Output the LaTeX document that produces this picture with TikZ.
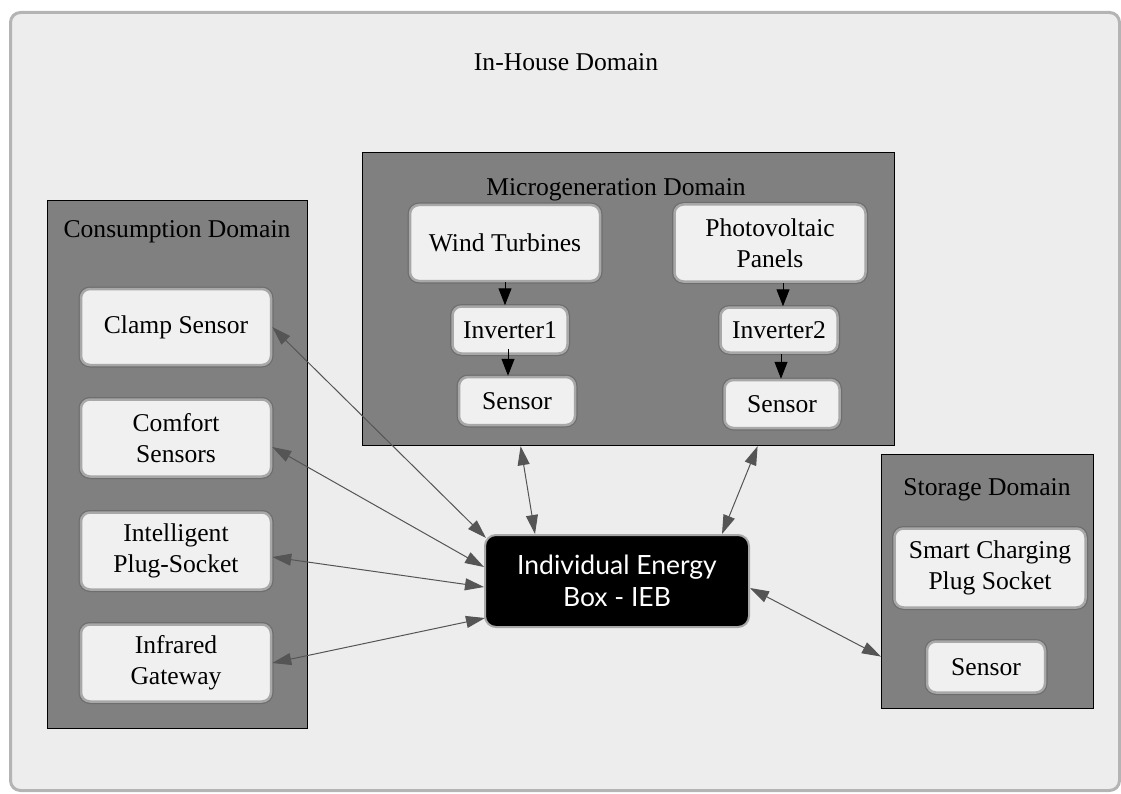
\documentclass[tikz,border=0pt]{standalone}
\usepackage{fontspec}
\setmainfont{Liberation Serif}
\newfontfamily\iebfont{Lato}
\usetikzlibrary{arrows.meta}

\definecolor{framefill}{HTML}{EDEDED}
\definecolor{frameline}{HTML}{B4B4B4}
\definecolor{domainfill}{HTML}{808080}
\definecolor{itemfill}{HTML}{F0F0F0}
\definecolor{itemedge}{HTML}{6E6E6E}
\definecolor{itemrim}{HTML}{A8A8A8}
\definecolor{linkgray}{HTML}{555555}

\begin{document}
\begin{tikzpicture}[x=1pt,y=-1pt,
  every node/.style={font=\fontsize{25.6}{31}\selectfont, align=center, inner sep=0pt},
  domainbox/.style={draw=black, line width=1.2pt, fill=domainfill, anchor=north west},
  itembox/.style={fill=itemfill, rounded corners=9pt, draw=itemrim, line width=2.5pt,
     preaction={draw=itemedge, line width=5pt}},
  iebbox/.style={fill=black, draw=itemrim, line width=2pt, rounded corners=11pt,
     text=white, font=\iebfont\fontsize{26.5}{32}\selectfont},
  link/.style={draw=linkgray, line width=1pt,
     {Triangle[length=19pt,width=12pt]}-{Triangle[length=19pt,width=12pt]}},
  flow/.style={draw=black, line width=1pt, -{Triangle[length=17pt,width=13pt]}}
]
\useasboundingbox (0,0) rectangle (1121,794);

% outer house frame
\node[draw=frameline, fill=framefill, line width=3pt, rounded corners=10pt,
      minimum width=1109pt, minimum height=778pt, anchor=north west] (house) at (9,11) {};
\node (housetitle) at (566,62) {In-House Domain};

% domains
\node[domainbox, minimum width=260pt, minimum height=528pt] (cons) at (47,200) {};
\node (constitle) at (177,232) {Consumption Domain};
\node[domainbox, minimum width=532pt, minimum height=293pt] (micro) at (362,152) {};
\node (microtitle) at (616,190) {Microgeneration Domain};
\node[domainbox, minimum width=212pt, minimum height=254pt] (stor) at (881,454) {};
\node (stortitle) at (987,490) {Storage Domain};

% consumption devices
\node[itembox, minimum width=190pt, minimum height=76pt] (clamp) at (176,327) {Clamp Sensor};
\node[itembox, minimum width=190pt, minimum height=77pt] (comfort) at (176,438) {Comfort\\Sensors};
\node[itembox, minimum width=190pt, minimum height=77pt] (plug) at (176,551) {Intelligent\\Plug-Socket};
\node[itembox, minimum width=190pt, minimum height=77pt] (infra) at (176,663) {Infrared\\Gateway};

% microgeneration devices
\node[itembox, minimum width=190pt, minimum height=76pt] (wind) at (505,243) {Wind Turbines};
\node[itembox, minimum width=191pt, minimum height=77pt] (pv) at (770,243) {Photovoltaic\\Panels};
\node[itembox, minimum width=115pt, minimum height=47pt] (inva) at (510,330) {Inverter1};
\node[itembox, minimum width=116pt, minimum height=48pt] (sensa) at (517,401) {Sensor};
\node[itembox, minimum width=117pt, minimum height=45pt] (invb) at (779,330) {Inverter2};
\node[itembox, minimum width=115pt, minimum height=48pt] (sensb) at (782,404) {Sensor};

% storage devices
\node[itembox, minimum width=191pt, minimum height=79pt] (charge) at (990,568) {Smart Charging\\Plug Socket};
\node[itembox, minimum width=118pt, minimum height=51pt] (sensc) at (986,667) {Sensor};

% energy box
\node[iebbox, minimum width=264pt, minimum height=92pt] (ieb) at (617,581) {Individual Energy\\Box - IEB};

% flows inside the microgeneration domain
\draw[flow] (wind.south) -- (wind.south |- inva.north);
\draw[flow] ([xshift=-2pt,yshift=6pt]inva.south) -- ([xshift=-2pt]inva.south |- sensa.north);
\draw[flow] ([xshift=13pt]pv.south) -- ([xshift=13pt]pv.south |- invb.north);
\draw[flow] ([xshift=2pt]invb.south) -- ([xshift=2pt]invb.south |- sensb.north);

% links to the energy box
\draw[link] (clamp.east) -- ([xshift=2pt,yshift=-4pt]ieb.north west);
\draw[link] ([yshift=-9pt]comfort.east) -- ([yshift=14pt]ieb.west);
\draw[link] ([yshift=-6pt]plug.east) -- ([yshift=-6pt]ieb.west);
\draw[link] (infra.east) -- ([xshift=1pt,yshift=10pt]ieb.south west);
\draw[link] ([xshift=-108pt]micro.south) -- ([xshift=-82pt]ieb.north);
\draw[link] ([xshift=129pt]micro.south) -- ([xshift=105pt]ieb.north);
\draw[link] ([yshift=-7pt]ieb.east) -- ([yshift=-75pt]stor.west);
\end{tikzpicture}
\end{document}
